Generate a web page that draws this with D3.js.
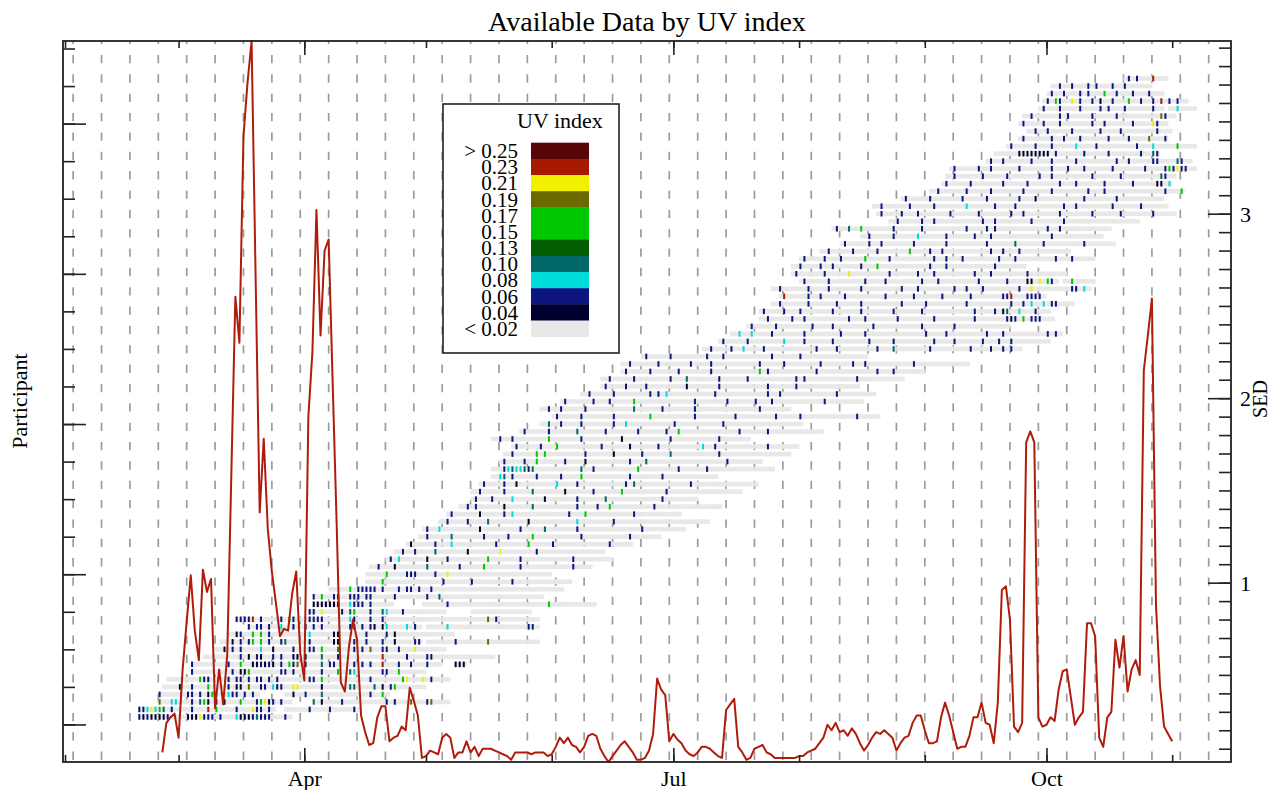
<!DOCTYPE html>
<html>
<head>
<meta charset="utf-8">
<script src="https://cdn.jsdelivr.net/npm/d3@7"></script>
<style>
  body { margin: 0; background: #fff; }
  svg { display: block; }
  text { font-family: "Liberation Serif", "Times New Roman", serif; fill: #000; }
</style>
</head>
<body>
<svg></svg>
<script>
'use strict'

const width = 1272
const height = 790

// daily SED, starting 2013-02-25
const sedStart = new Date(2013, 1, 25)
const sedValues = [
  0.08, 0.24, 0.27, 0.29, 0.16, 0.53, 0.79, 1.04, 0.74, 0.58,
  1.07, 0.95, 1.02, 0.32, 0.53, 0.34, 0.61, 1.58, 2.55, 2.30,
  3.42, 3.71, 3.936, 2.65, 1.38, 1.78, 1.29, 1.06, 0.89, 0.71,
  0.75, 0.74, 0.94, 1.06, 0.62, 0.47, 1.90, 2.25, 3.02, 2.34,
  2.80, 2.86, 2.08, 1.30, 0.46, 0.41, 0.65, 0.80, 0.69, 0.28,
  0.19, 0.12, 0.13, 0.27, 0.33, 0.33, 0.14, 0.16, 0.17, 0.22,
  0.20, 0.43, 0.36, 0.28, 0.05, 0.06, 0.09, 0.08, 0.07, 0.16,
  0.18, 0.16, 0.05, 0.08, 0.08, 0.14, 0.08, 0.11, 0.06, 0.10,
  0.10, 0.10, 0.09, 0.08, 0.07, 0.06, 0.04, 0.08, 0.08, 0.08,
  0.08, 0.07, 0.08, 0.08, 0.08, 0.06, 0.07, 0.11, 0.16, 0.13,
  0.16, 0.12, 0.11, 0.08, 0.11, 0.17, 0.18, 0.17, 0.10, 0.06,
  0.028, 0.06, 0.09, 0.12, 0.14, 0.11, 0.08, 0.04, 0.04, 0.05,
  0.09, 0.18, 0.48, 0.42, 0.39, 0.14, 0.18, 0.15, 0.13, 0.09,
  0.07, 0.06, 0.08, 0.11, 0.11, 0.10, 0.08, 0.06, 0.05, 0.31,
  0.34, 0.37, 0.11, 0.08, 0.04, 0.05, 0.10, 0.11, 0.12, 0.08,
  0.07, 0.05, 0.05, 0.05, 0.05, 0.05, 0.05, 0.06, 0.06, 0.08,
  0.09, 0.10, 0.13, 0.16, 0.23, 0.20, 0.24, 0.19, 0.20, 0.17,
  0.21, 0.18, 0.13, 0.09, 0.12, 0.16, 0.19, 0.18, 0.20, 0.18,
  0.16, 0.09, 0.13, 0.16, 0.17, 0.24, 0.28, 0.28, 0.20, 0.13,
  0.13, 0.14, 0.27, 0.35, 0.28, 0.19, 0.10, 0.11, 0.11, 0.17,
  0.27, 0.27, 0.35, 0.24, 0.23, 0.13, 0.35, 0.96, 0.98, 0.80,
  0.22, 0.19, 0.24, 1.76, 1.82, 1.76, 0.27, 0.22, 0.23, 0.27,
  0.25, 0.42, 0.52, 0.53, 0.38, 0.23, 0.27, 0.30, 0.78, 0.78,
  0.71, 0.16, 0.11, 0.27, 0.30, 0.69, 0.54, 0.71, 0.41, 0.53,
  0.58, 0.50, 2.15, 2.34, 2.54, 0.88, 0.44, 0.22, 0.18, 0.14
]

// legend classes, top to bottom
const uvLabels = ['> 0.25', '0.23', '0.21', '0.19', '0.17', '0.15', '0.13', '0.10', '0.08', '0.06', '0.04', '< 0.02']
const uvColors = ['#560606', '#a81a00', '#f0f000', '#6a6a00', '#00c800', '#00c800', '#005e00', '#006868', '#00dcdc', '#0c1580', '#00002e', '#e8e8e8']
// day codes in rowDays -> legend class
const dayCode = { '-': 11, '1': 10, '2': 9, '3': 8, '4': 7, '5': 6, '6': 5, '7': 3, '8': 2, '9': 1, 'a': 0 }

const quarterMonths = [new Date(2013, 3, 1), new Date(2013, 6, 1), new Date(2013, 9, 1)]
const sedTicks = [1, 2, 3]
const participantMajor = [0, 20, 40, 60, 80]

// participants 1..86: first day (days after 2013-02-01) and one code per day ('.' = no data)
const rowStart = [18, 18, 23, 23, 24, 25, 31, 31, 34, 37, 38, 40, 45, 42, 60, 61, 61, 65, 74, 74,
  75, 79, 81, 84, 87, 88, 92, 94, 97, 100, 100, 102, 105, 105, 107, 108, 110, 105, 112, 117,
  120, 117, 122, 127, 132, 132, 137, 137, 142, 157, 161, 164, 168, 171, 171, 174, 176, 174, 181, 179,
  179, 181, 186, 191, 196, 189, 203, 200, 199, 206, 213, 216, 217, 218, 227, 229, 232, 235, 237, 235,
  236, 240, 241, 242, 243, 261]
const rowDays = [
  '21211112----1118222-2---311124222---2-',
  '2238364-2----2---9-6----2---822-2-..------2----2-----2-',
  '7--33---2-461-2-1---6---26812-2--.....4-1----2----------2-2---7---27----',
  '2------22-2-16---322-2-2-......--1--2---4-----------2--6-',
  '----1--2---6----2-11-7--22-322--88-----1------44----4-1-26-------',
  '--------622----2-22-2-22-2-2-------22-6-----------2-------68---8-2----',
  '2---------2-116-------22-2------2---6--43------22--6------',
  '2--------2--6--112121-2-627-2---4-22----2-2-2--9---2--2---2---...111',
  '---------2-1-21--2-2--11-1---4---2----------9-----2----22---------------',
  '--1-2-2----3--1----2---22-6---7---2-2-7--22--2---8-------',
  '---1-2-26-6-2--24-----2-----11---2--2---2--1----22.-------2-------7------------',
  '--12--6-6-2---------3-----11------2----2-1--------------',
  '2-22-2--3--2--2-2-2------22-2-21-13----3-2-.-----3-------------------22-',
  '22229-2----2-62---2222------32---2--2-------------------------7-2----------',
  '22-8----2-46---2--43---2----------......---------------',
  '1111111--3222-2-----.......------2------------------------6-----------',
  '2-6--22--222-22-----2-------2--4-------------------------',
  '-----6-22222-2---2-22-2--2--------------------------------',
  '----6--------------2------2---------2--------------',
  '-----6----222----2--8-------------------------',
  '--2---1-------4-------2-----6--------2------------2----',
  '-2-3------1----2---------6-------2------------2---------',
  '--2--2----4-------1-------8--------2----------------',
  '-1-----2---3----------2-------6-----2-------------2-----',
  '--2-----4-------2-----2-----6-----------2-----------2-------',
  '-2--3---------1---------2-----4-------2---------------2----------',
  '--2----2----4---------1-----------3--------2-----------------------',
  '-2------1-----2-3-------------2---6-----------2-----------',
  '--2-2------1------4----------2----2--6----------2----------------',
  '-2---2----3-------1-------2------4-------------2--------',
  '--2-----2------4-------1------2------6----------2------------------',
  '-2----2--1---------3----2-----------2-4-------------2----------------',
  '--34-2-----2-----2----6-----------2-------2-------------',
  '---23433424-----------4--2----------6---------2------2----------------',
  '-2----2--6------2----1----------2---4-------------------2--------',
  '--2-----6-6---------2------1------2------4-----------2-----------------',
  '-2-----2---6----------2------1------2----------3--2------------2-------',
  '--2--2--------6-------2---------1-----------2-----------2-------',
  '-2-----2------4------2-------2------2--6--------------2------2-------------',
  '--4--2----2-------2--3-----------2-----------2-------------------',
  '-2-----2-------2--------6----------2---------2---------2-----2-------------2-----',
  '--2--2-----2-----------4------2-------2---------------2-------',
  '-2------2---2-----6--------------2-------2------2---2------------2---------',
  '--2-----2--------2-2-3-----------2------------2--2-------------2---------',
  '-2----2----2---------1-------2-----------2------2---------------',
  '--2-----2--------2---4-------2------2-----------2-2------------2-----------',
  '-2-----2------2-------2-----------6-2-----------2--------------2---2-------',
  '--2------2-------2----2-----------2-----2--------2-------2--2-----------2-------------',
  '-2-----2--------2---2-----------2------2----------------',
  '--2----2--3----2------------2----2---------2---4--------2---------2----2--2-2--',
  '-2-----2--------3----2------2--------2-----2---------2----2------2---2--2---------',
  '--3--3----2-------2--------2-----2--------------2----2---------2---2----------2-2-',
  '-2-----2--------2----2---------2-----------2-------2-------------',
  '--2-----2--2----------2---2-------2--------2---------2-------212-6-222---',
  '-2----2---2-------2------2-------2------2------------2----2-14--3---2---',
  '--2------2------2-----2---------2-----2---------2----------2--2-3--3-22----',
  '-9-----2--2-----2---------2------2------2------2-------229---2222-',
  '--2------2----2-------2---------2---2--------2--2---2--------2--8---------22-3-',
  '-2-----2--------2----2--------2---2---------2------2----11-8-62-.--6-----',
  '-2------2-----8---------2------2---2---------2---2--------2---------',
  '--2----2--2------2---6------------2---2-----------2-------',
  '-2----2---2-----6-----2----------2--2---2--------2---2---------2---2-----',
  '--2-----2-----2-------6----2--2-----------2--2---2------------',
  '-2-----2--2-------2-------2---------2------4------2---------2-------',
  '--2-----2-----3------2------2---2--------------2------------',
  '-2--4--6-------2------2----------2----2-2------------2--2------------',
  '--2-----2--2-----------2--2--------2-------2------------------',
  '-2----2---2-------2------2-------2--2--------2-------2------2-------2-----',
  '--2------2-----2-------3------2----2-----------2--2--------2------2------',
  '-2-----2-------2-----2-------2---1-----------2-------2-----------',
  '--2------2-----2-------2------2--------2---2--------------2---6',
  '-2-----2-------2-----2-------2---2------2------2-----11-3',
  '--2------2-----2-------2--2---------2------2---------42--',
  '-2-----2--2------2-------2---2---2------2-------2----262822--',
  '-2--2------2----2-----2---------2--2-----22----42--',
  '------11111111-2------2-----2-------2--42',
  '-2-----2---2-----3----2---------2---3-----6----',
  '-2------2--2---2------2----2----7---2',
  '--2--2-----2------2----2--------2---',
  '-2----2---2-------2--2------2----82--',
  '--2------2-2-----2-----2----------72--',
  '-2---2----2----2-2---2------2--.--3----',
  '-2-62--8-2--2-1--2---6--2--2-9-2-2--',
  '-2--2---2-2---6--2---2---2---',
  '--2--2---2-2---2--2------',
  '-2-2---9---'
]

const dayZero = new Date(2013, 1, 1)

const svg = d3.select('svg').attr('width', width).attr('height', height)

const x = d3.scaleTime()
  .domain([new Date(2013, 0, 31, 12), new Date(2013, 10, 15, 12)])
  .range([63, 1231])
const yRow = d3.scaleLinear().domain([-5, 91]).range([762, 41])
const ySed = d3.scaleLinear().domain(d3.extent(sedValues)).range([762, 41])

// weekly dashed grid (Sundays)
svg.append('g')
  .selectAll('line')
  .data(d3.timeSunday.range(x.domain()[0], x.domain()[1]))
  .join('line')
  .attr('x1', d => x(d)).attr('x2', d => x(d))
  .attr('y1', 41).attr('y2', 762)
  .attr('stroke', '#9c9c9c')
  .attr('stroke-width', 1.7)
  .attr('stroke-dasharray', '8.3,11.05')
  .attr('stroke-dashoffset', 5.35)

// participant days
const cells = []
rowDays.forEach((s, i) => {
  for (let j = 0; j < s.length; j++) {
    if (s[j] === '.') continue
    cells.push({ k: i + 1, day: d3.timeDay.offset(dayZero, rowStart[i] + j), code: s[j] })
  }
})

const rows = svg.append('g')
rows.selectAll('rect.day')
  .data(cells)
  .join('rect')
  .attr('class', 'day')
  .attr('x', d => x(d.day))
  .attr('width', d => x(d3.timeDay.offset(d.day, 1)) - x(d.day) + 0.3)
  .attr('y', d => yRow(d.k) - 2.3)
  .attr('height', 4.6)
  .attr('fill', uvColors[11])
rows.selectAll('rect.uv')
  .data(cells.filter(d => d.code !== '-'))
  .join('rect')
  .attr('class', 'uv')
  .attr('x', d => x(d.day) + 0.3)
  .attr('width', 2)
  .attr('y', d => yRow(d.k) - 2.8)
  .attr('height', 5.6)
  .attr('fill', d => uvColors[dayCode[d.code]])

// SED line
svg.append('path')
  .datum(sedValues)
  .attr('fill', 'none')
  .attr('stroke', '#b01c0c')
  .attr('stroke-width', 2)
  .attr('stroke-linejoin', 'round')
  .attr('d', d3.line()
    .x((d, i) => x(d3.timeDay.offset(sedStart, i)))
    .y(d => ySed(d)))

// axes
const months = d3.timeMonth.range(x.domain()[0], x.domain()[1])

function clean(g) {
  g.select('.domain').remove()
  g.selectAll('.tick line').attr('stroke', '#222').attr('stroke-width', 1.6)
}

svg.append('g').attr('transform', 'translate(0,762)')
  .call(d3.axisBottom(x).tickValues(months).tickSize(-7).tickFormat(''))
  .call(clean)
const bottomMajor = svg.append('g').attr('transform', 'translate(0,762)')
  .call(d3.axisBottom(x).tickValues(quarterMonths).tickSize(-14).tickFormat(d3.timeFormat('%b')))
  .call(clean)
bottomMajor.selectAll('text').attr('y', 24).attr('dy', null)
  .style('font-size', '22px').style('font-family', '"Liberation Serif", serif')

svg.append('g').attr('transform', 'translate(0,41)')
  .call(d3.axisTop(x).tickValues(months).tickSize(-7).tickFormat(''))
  .call(clean)
svg.append('g').attr('transform', 'translate(0,41)')
  .call(d3.axisTop(x).tickValues(quarterMonths).tickSize(-14).tickFormat(''))
  .call(clean)

svg.append('g').attr('transform', 'translate(63,0)')
  .call(d3.axisLeft(yRow).tickValues(d3.range(0, 91, 5)).tickSize(-12).tickFormat(''))
  .call(clean)
svg.append('g').attr('transform', 'translate(63,0)')
  .call(d3.axisLeft(yRow).tickValues(participantMajor).tickSize(-23).tickFormat(''))
  .call(clean)

svg.append('g').attr('transform', 'translate(1231,0)')
  .call(d3.axisRight(ySed).ticks(40).tickSize(-12).tickFormat(''))
  .call(clean)
const rightMajor = svg.append('g').attr('transform', 'translate(1231,0)')
  .call(d3.axisRight(ySed).tickValues(sedTicks).tickSize(-23).tickPadding(9).tickFormat(d3.format('d')))
  .call(clean)
rightMajor.selectAll('text').attr('dy', '0.35em')
  .style('font-size', '22px').style('font-family', '"Liberation Serif", serif')

// frame
svg.append('rect')
  .attr('x', 63).attr('y', 41).attr('width', 1168).attr('height', 721)
  .attr('fill', 'none').attr('stroke', '#222').attr('stroke-width', 1.8)

// titles
svg.append('text').attr('x', 647).attr('y', 31).attr('text-anchor', 'middle')
  .style('font-size', '28px').text('Available Data by UV index')
svg.append('text').attr('transform', 'translate(27,401) rotate(-90)').attr('text-anchor', 'middle')
  .style('font-size', '22px').text('Participant')
svg.append('text').attr('transform', 'translate(1267,399) rotate(-90)').attr('text-anchor', 'middle')
  .style('font-size', '20px').text('SED')

// legend
const legend = svg.append('g')
legend.append('rect')
  .attr('x', 443).attr('y', 104).attr('width', 176).attr('height', 249)
  .attr('fill', '#fff').attr('stroke', '#222').attr('stroke-width', 1.6)
legend.append('text').attr('x', 560).attr('y', 127.5).attr('text-anchor', 'middle')
  .style('font-size', '22px').text('UV index')

const band = d3.scaleBand().domain(uvLabels).range([142.7, 336.7])
legend.selectAll('rect.sw')
  .data(uvLabels)
  .join('rect')
  .attr('class', 'sw')
  .attr('x', 531).attr('width', 58)
  .attr('y', d => band(d)).attr('height', band.bandwidth() + 0.4)
  .attr('fill', (d, i) => uvColors[i])
legend.selectAll('text.lab')
  .data(uvLabels)
  .join('text')
  .attr('class', 'lab')
  .attr('x', 518)
  .attr('y', d => band(d) + band.bandwidth() / 2)
  .attr('dy', '0.35em')
  .attr('text-anchor', 'end')
  .style('font-size', '21px')
  .text(d => d)
</script>
</body>
</html>
